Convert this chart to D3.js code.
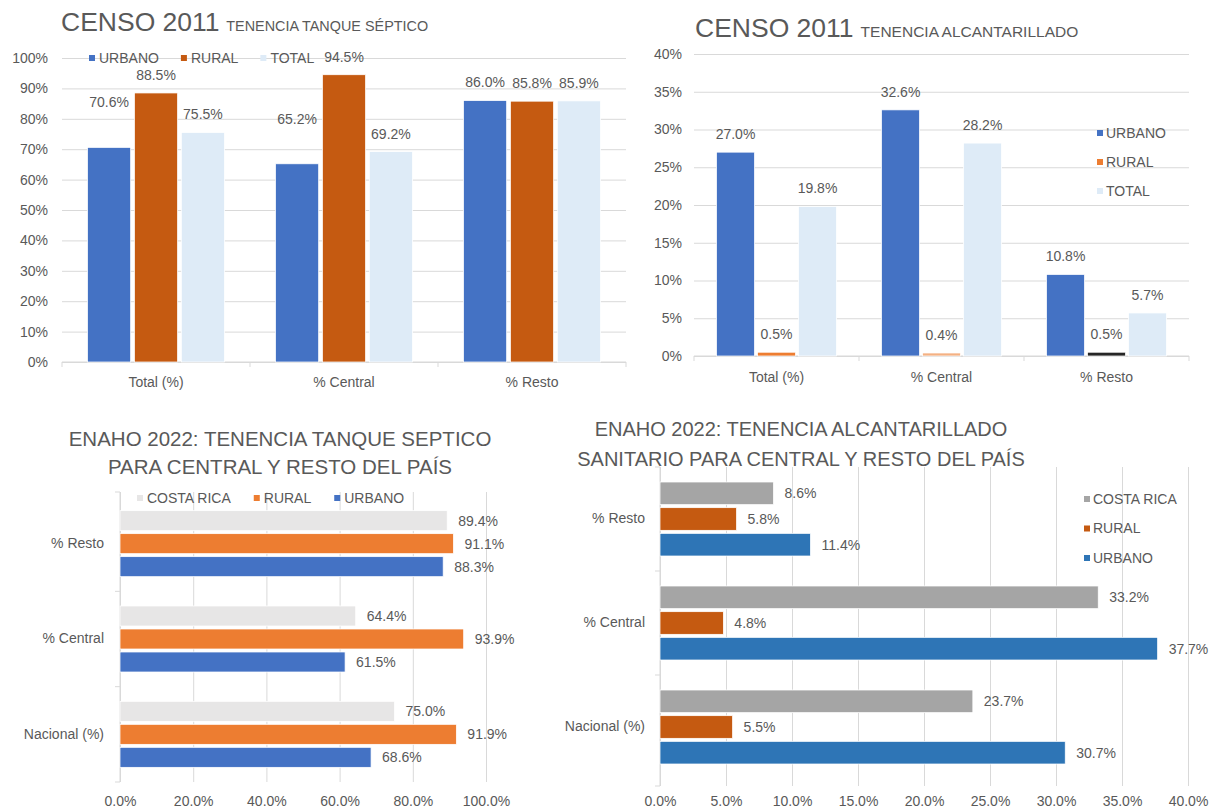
<!DOCTYPE html>
<html>
<head>
<meta charset="utf-8">
<script src="https://cdn.jsdelivr.net/npm/d3@7"></script>
<style>
  body { margin: 0; background: #fff; }
  text { font-family: "Liberation Sans", Arial, sans-serif; font-size: 14px; fill: #595959; }
</style>
</head>
<body>
<svg id="chart" width="1212" height="810"></svg>
<script>
// CENSO 2011
const censoCategories = ["Total (%)", "% Central", "% Resto"];
const censoSeries = ["URBANO", "RURAL", "TOTAL"];
const septicoUrbano = [0.706, 0.652, 0.860];
const septicoRural = [0.885, 0.945, 0.858];
const septicoTotal = [0.755, 0.692, 0.859];
const septicoTicks = [0, 0.1, 0.2, 0.3, 0.4, 0.5, 0.6, 0.7, 0.8, 0.9, 1.0];
const alcantUrbano = [0.270, 0.326, 0.108];
const alcantRural = [0.005, 0.004, 0.005];
const alcantTotal = [0.198, 0.282, 0.057];
const alcantTicks = [0, 0.05, 0.10, 0.15, 0.20, 0.25, 0.30, 0.35, 0.40];

// ENAHO 2022 (top to bottom as shown)
const enahoCategories = ["% Resto", "% Central", "Nacional (%)"];
const enahoSeries = ["COSTA RICA", "RURAL", "URBANO"];
const tanqueCostaRica = [0.894, 0.644, 0.750];
const tanqueRural = [0.911, 0.939, 0.919];
const tanqueUrbano = [0.883, 0.615, 0.686];
const tanqueTicks = [0, 0.2, 0.4, 0.6, 0.8, 1.0];
const sanitCostaRica = [0.086, 0.332, 0.237];
const sanitRural = [0.058, 0.048, 0.055];
const sanitUrbano = [0.114, 0.377, 0.307];
const sanitTicks = [0, 0.05, 0.10, 0.15, 0.20, 0.25, 0.30, 0.35, 0.40];

const svg = d3.select("#chart");
const pct0 = d3.format(".0%");
const pct1 = d3.format(".1%");
const grid = "#d9d9d9";

function title(x, y, main, sub, mainSize, subSize) {
  const t = svg.append("text").attr("x", x).attr("y", y).style("font-size", mainSize + "px").text(main);
  t.append("tspan").attr("dx", 3).style("font-size", subSize + "px").text(" " + sub);
}

function centeredTitle(cx, ys, lines, size) {
  lines.forEach((l, i) => {
    svg.append("text").attr("x", cx).attr("y", ys[i]).attr("text-anchor", "middle")
      .style("font-size", size + "px").text(l);
  });
}

function legendRow(items, colors, x, y, gap) {
  const g = svg.append("g");
  let cx = x;
  items.forEach(s => {
    g.append("rect").attr("x", cx).attr("y", y - 3).attr("width", 6).attr("height", 6).attr("fill", colors[s]);
    const t = g.append("text").attr("x", cx + 10).attr("y", y).attr("dy", "0.35em").text(s);
    cx += 10 + t.node().getComputedTextLength() + gap;
  });
}

function legendColumn(items, colors, x, y, step) {
  const g = svg.append("g");
  items.forEach((s, i) => {
    g.append("rect").attr("x", x).attr("y", y + i * step - 3).attr("width", 6).attr("height", 6).attr("fill", colors[s]);
    g.append("text").attr("x", x + 9).attr("y", y + i * step).attr("dy", "0.35em").text(s);
  });
}

function drawColumns(cfg) {
  const g = svg.append("g");
  const [left, right] = cfg.xRange;
  const x = d3.scaleBand().domain(cfg.categories).range(cfg.xRange);
  const y = d3.scaleLinear().domain([0, cfg.max]).range(cfg.yRange);
  const bw = x.bandwidth();
  const inner = d3.scaleBand().domain(cfg.series)
    .range([(bw - cfg.groupWidth) / 2, (bw + cfg.groupWidth) / 2])
    .paddingInner(cfg.barGap);

  g.append("g").attr("transform", `translate(${left},0)`).attr("color", grid)
    .call(d3.axisLeft(y).tickValues(cfg.ticks).tickFormat(pct0).tickSize(-(right - left)).tickPadding(cfg.valuePad))
    .call(a => a.select(".domain").remove());

  // category axis with ticks between groups
  const base = y(0);
  g.append("line").attr("x1", left).attr("x2", right).attr("y1", base).attr("y2", base).attr("stroke", grid);
  g.selectAll(".sep").data(cfg.categories.map(c => x(c)).concat(right)).join("line")
    .attr("x1", d => d).attr("x2", d => d).attr("y1", base).attr("y2", base + 5).attr("stroke", grid);
  g.append("g").attr("transform", `translate(0,${base})`)
    .call(d3.axisBottom(x).tickSize(0).tickPadding(cfg.catPad))
    .call(a => a.select(".domain").remove());

  cfg.series.forEach((s, si) => {
    const vals = cfg.values[si];
    const color = i => (cfg.pointColor && cfg.pointColor(s, i)) || cfg.colors[s];
    g.append("g").selectAll("rect").data(vals).join("rect")
      .attr("x", (d, i) => x(cfg.categories[i]) + inner(s))
      .attr("y", d => y(d))
      .attr("width", inner.bandwidth())
      .attr("height", d => base - y(d))
      .attr("fill", (d, i) => color(i))
      .attr("stroke", "#fff").attr("stroke-width", 0.75);
    g.append("g").selectAll("text").data(vals).join("text")
      .attr("x", (d, i) => x(cfg.categories[i]) + inner(s) + inner.bandwidth() / 2)
      .attr("y", (d, i) => y(d) - 18 - (cfg.labelLift ? cfg.labelLift(s, i) : 0))
      .attr("dy", "0.35em").attr("text-anchor", "middle")
      .text(pct1);
  });
}

function drawBars(cfg) {
  const g = svg.append("g");
  const [left, right] = cfg.xRange;
  const y = d3.scaleBand().domain(cfg.categories).range(cfg.yRange);
  const x = d3.scaleLinear().domain([0, cfg.max]).range(cfg.xRange);
  const bh = y.bandwidth();
  const inner = d3.scaleBand().domain(cfg.series)
    .range([(bh - cfg.groupWidth) / 2, (bh + cfg.groupWidth) / 2])
    .paddingInner(cfg.barGap);

  g.append("g").attr("transform", `translate(0,${cfg.axisY})`).attr("color", grid)
    .call(d3.axisBottom(x).tickValues(cfg.ticks).tickFormat(pct1).tickSize(-(cfg.axisY - cfg.gridTop)).tickPadding(cfg.valuePad))
    .call(a => a.select(".domain").remove());

  g.append("line").attr("x1", left).attr("x2", left).attr("y1", cfg.gridTop).attr("y2", cfg.axisY).attr("stroke", grid);
  const seps = cfg.categories.map(c => y(c)).slice(1).concat(cfg.gridTop, cfg.axisY);
  g.selectAll(".sep").data(seps).join("line")
    .attr("x1", left - 5).attr("x2", left).attr("y1", d => d).attr("y2", d => d).attr("stroke", grid);
  g.append("g").attr("transform", `translate(${left},0)`)
    .call(d3.axisLeft(y).tickSize(0).tickPadding(cfg.catPad))
    .call(a => a.select(".domain").remove());

  cfg.series.forEach((s, si) => {
    const vals = cfg.values[si];
    g.append("g").selectAll("rect").data(vals).join("rect")
      .attr("x", left)
      .attr("y", (d, i) => y(cfg.categories[i]) + inner(s))
      .attr("width", d => x(d) - left)
      .attr("height", inner.bandwidth())
      .attr("fill", cfg.colors[s])
      .attr("stroke", "#fff").attr("stroke-width", 0.75);
    g.append("g").selectAll("text").data(vals).join("text")
      .attr("x", d => x(d) + 11)
      .attr("y", (d, i) => y(cfg.categories[i]) + inner(s) + inner.bandwidth() / 2)
      .attr("dy", "0.35em")
      .text(pct1);
  });
}

// top left
const colorsTL = { URBANO: "#4472C4", RURAL: "#C55A11", TOTAL: "#DEEBF7" };
drawColumns({
  categories: censoCategories, series: censoSeries,
  values: [septicoUrbano, septicoRural, septicoTotal],
  colors: colorsTL, max: 1, ticks: septicoTicks,
  xRange: [62, 626], yRange: [362, 58],
  groupWidth: 137, barGap: 0.08, valuePad: 14, catPad: 15,
  labelLift: (s, i) => (s === "URBANO" && i < 2 ? 27 : 0)
});
legendRow(censoSeries, colorsTL, 89, 58, 22);
title(61, 31, "CENSO 2011", "TENENCIA TANQUE SÉPTICO", 26.5, 14.4);

// top right
const colorsTR = { URBANO: "#4472C4", RURAL: "#ED7D31", TOTAL: "#DEEBF7" };
const ruralPointColors = ["#ED7D31", "#F4B183", "#262626"];
drawColumns({
  categories: censoCategories, series: censoSeries,
  values: [alcantUrbano, alcantRural, alcantTotal],
  colors: colorsTR, max: 0.4, ticks: alcantTicks,
  xRange: [694, 1189], yRange: [356, 54],
  groupWidth: 120, barGap: 0.073, valuePad: 12, catPad: 16,
  pointColor: (s, i) => (s === "RURAL" ? ruralPointColors[i] : null)
});
legendColumn(censoSeries, colorsTR, 1097, 133, 29);
title(695, 37, "CENSO 2011", "TENENCIA ALCANTARILLADO", 26.5, 15.5);

// bottom left
const colorsBL = { "COSTA RICA": "#E7E6E6", RURAL: "#ED7D31", URBANO: "#4472C4" };
drawBars({
  categories: enahoCategories, series: enahoSeries,
  values: [tanqueCostaRica, tanqueRural, tanqueUrbano],
  colors: colorsBL, max: 1, ticks: tanqueTicks,
  xRange: [120, 486], yRange: [496, 782], gridTop: 492, axisY: 782,
  groupWidth: 66, barGap: 0.13, valuePad: 14, catPad: 16
});
legendRow(enahoSeries, colorsBL, 137, 498, 23);
centeredTitle(280, [446, 474], ["ENAHO 2022: TENENCIA TANQUE SEPTICO", "PARA CENTRAL Y RESTO DEL PAÍS"], 20.5);

// bottom right
const colorsBR = { "COSTA RICA": "#A5A5A5", RURAL: "#C55A11", URBANO: "#2E75B6" };
drawBars({
  categories: enahoCategories, series: enahoSeries,
  values: [sanitCostaRica, sanitRural, sanitUrbano],
  colors: colorsBR, max: 0.4, ticks: sanitTicks,
  xRange: [660, 1188], yRange: [467, 779], gridTop: 467, axisY: 786,
  groupWidth: 74, barGap: 0.118, valuePad: 10, catPad: 15
});
legendColumn(enahoSeries, colorsBR, 1084, 499, 29.5);
centeredTitle(801, [436, 466], ["ENAHO 2022: TENENCIA ALCANTARILLADO", "SANITARIO PARA CENTRAL Y RESTO DEL PAÍS"], 20);
</script>
</body>
</html>
